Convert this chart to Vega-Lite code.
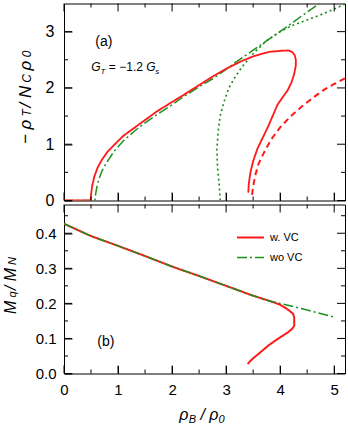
{
  "$schema": "https://vega.github.io/schema/vega-lite/v6.json",
  "padding": {"left": 2, "top": 2.5, "right": 0, "bottom": 0},
  "bounds": "flush",
  "spacing": 4,
  "config": {
    "view": {"stroke": "#000", "strokeWidth": 1},
    "axis": {"labelColor": "#000", "labelFont": "Liberation Sans", "labelFontSize": 15, "labelFlush": false, "labelOverlap": false},
    "text": {"font": "Liberation Sans", "color": "#000"},
    "legend": {"labelFont": "Liberation Sans"}
  },
  "resolve": {"scale": {"color": "independent", "strokeDash": "independent", "strokeWidth": "independent"}, "legend": {"color": "independent", "strokeDash": "independent"}},
  "vconcat": [
    {
      "width": 281,
      "height": 197,
      "resolve": {"axis": {"x": "independent", "y": "independent"}},
      "layer": [
        {
          "data": {"values": [
            {"s":"wo VC","i":0,"x":0,"y":0},{"s":"wo VC","i":1,"x":0.3,"y":0},{"s":"wo VC","i":2,"x":0.574,"y":0},{"s":"wo VC","i":3,"x":0.58,"y":0.08},{"s":"wo VC","i":4,"x":0.6,"y":0.2},{"s":"wo VC","i":5,"x":0.64,"y":0.36},{"s":"wo VC","i":6,"x":0.7,"y":0.52},{"s":"wo VC","i":7,"x":0.78,"y":0.66},{"s":"wo VC","i":8,"x":0.93,"y":0.88},{"s":"wo VC","i":9,"x":1.1,"y":1.06},{"s":"wo VC","i":10,"x":1.3,"y":1.23},{"s":"wo VC","i":11,"x":1.5,"y":1.38},{"s":"wo VC","i":12,"x":1.73,"y":1.53},{"s":"wo VC","i":13,"x":2.0,"y":1.7},{"s":"wo VC","i":14,"x":2.22,"y":1.85},{"s":"wo VC","i":15,"x":2.5,"y":2.02},{"s":"wo VC","i":16,"x":2.78,"y":2.18},{"s":"wo VC","i":17,"x":3.0,"y":2.33},{"s":"wo VC","i":18,"x":3.2,"y":2.47},{"s":"wo VC","i":19,"x":3.5,"y":2.67},{"s":"wo VC","i":20,"x":3.8,"y":2.87},{"s":"wo VC","i":21,"x":4.1,"y":3.07},{"s":"wo VC","i":22,"x":4.4,"y":3.28},{"s":"wo VC","i":23,"x":4.73,"y":3.5},{"s":"wo VC","i":24,"x":4.85,"y":3.58},
            {"s":"wo VC dotted","i":0,"x":2.89,"y":0},{"s":"wo VC dotted","i":1,"x":2.87,"y":0.3},{"s":"wo VC dotted","i":2,"x":2.84,"y":0.6},{"s":"wo VC dotted","i":3,"x":2.83,"y":0.9},{"s":"wo VC dotted","i":4,"x":2.85,"y":1.2},{"s":"wo VC dotted","i":5,"x":2.89,"y":1.5},{"s":"wo VC dotted","i":6,"x":2.96,"y":1.75},{"s":"wo VC dotted","i":7,"x":3.05,"y":2.0},{"s":"wo VC dotted","i":8,"x":3.17,"y":2.2},{"s":"wo VC dotted","i":9,"x":3.3,"y":2.38},{"s":"wo VC dotted","i":10,"x":3.52,"y":2.63},{"s":"wo VC dotted","i":11,"x":3.75,"y":2.84},{"s":"wo VC dotted","i":12,"x":4.0,"y":3.0},{"s":"wo VC dotted","i":13,"x":4.2,"y":3.1},{"s":"wo VC dotted","i":14,"x":4.45,"y":3.19},{"s":"wo VC dotted","i":15,"x":4.7,"y":3.28},{"s":"wo VC dotted","i":16,"x":4.95,"y":3.38},{"s":"wo VC dotted","i":17,"x":5.2,"y":3.49},
            {"s":"w. VC","i":0,"x":0,"y":0},{"s":"w. VC","i":1,"x":0.3,"y":0},{"s":"w. VC","i":2,"x":0.494,"y":0},{"s":"w. VC","i":3,"x":0.5,"y":0.1},{"s":"w. VC","i":4,"x":0.52,"y":0.25},{"s":"w. VC","i":5,"x":0.56,"y":0.42},{"s":"w. VC","i":6,"x":0.62,"y":0.58},{"s":"w. VC","i":7,"x":0.7,"y":0.72},{"s":"w. VC","i":8,"x":0.8,"y":0.86},{"s":"w. VC","i":9,"x":0.93,"y":0.99},{"s":"w. VC","i":10,"x":1.1,"y":1.15},{"s":"w. VC","i":11,"x":1.3,"y":1.29},{"s":"w. VC","i":12,"x":1.5,"y":1.43},{"s":"w. VC","i":13,"x":1.73,"y":1.59},{"s":"w. VC","i":14,"x":2.0,"y":1.75},{"s":"w. VC","i":15,"x":2.22,"y":1.88},{"s":"w. VC","i":16,"x":2.5,"y":2.05},{"s":"w. VC","i":17,"x":2.78,"y":2.22},{"s":"w. VC","i":18,"x":3.0,"y":2.34},{"s":"w. VC","i":19,"x":3.27,"y":2.47},{"s":"w. VC","i":20,"x":3.5,"y":2.56},{"s":"w. VC","i":21,"x":3.64,"y":2.6},{"s":"w. VC","i":22,"x":3.8,"y":2.64},{"s":"w. VC","i":23,"x":4.01,"y":2.66},{"s":"w. VC","i":24,"x":4.15,"y":2.665},{"s":"w. VC","i":25,"x":4.22,"y":2.64},{"s":"w. VC","i":26,"x":4.27,"y":2.58},{"s":"w. VC","i":27,"x":4.29,"y":2.5},{"s":"w. VC","i":28,"x":4.29,"y":2.4},{"s":"w. VC","i":29,"x":4.26,"y":2.25},{"s":"w. VC","i":30,"x":4.21,"y":2.1},{"s":"w. VC","i":31,"x":4.14,"y":1.96},{"s":"w. VC","i":32,"x":4.05,"y":1.84},{"s":"w. VC","i":33,"x":3.95,"y":1.7},{"s":"w. VC","i":34,"x":3.87,"y":1.52},{"s":"w. VC","i":35,"x":3.78,"y":1.32},{"s":"w. VC","i":36,"x":3.68,"y":1.12},{"s":"w. VC","i":37,"x":3.58,"y":0.92},{"s":"w. VC","i":38,"x":3.5,"y":0.7},{"s":"w. VC","i":39,"x":3.45,"y":0.5},{"s":"w. VC","i":40,"x":3.42,"y":0.3},{"s":"w. VC","i":41,"x":3.41,"y":0.14},
            {"s":"w. VC dashed","i":0,"x":3.48,"y":0.1},{"s":"w. VC dashed","i":1,"x":3.5,"y":0.25},{"s":"w. VC dashed","i":2,"x":3.54,"y":0.45},{"s":"w. VC dashed","i":3,"x":3.6,"y":0.65},{"s":"w. VC dashed","i":4,"x":3.7,"y":0.85},{"s":"w. VC dashed","i":5,"x":3.83,"y":1.08},{"s":"w. VC dashed","i":6,"x":4.0,"y":1.3},{"s":"w. VC dashed","i":7,"x":4.2,"y":1.5},{"s":"w. VC dashed","i":8,"x":4.4,"y":1.67},{"s":"w. VC dashed","i":9,"x":4.6,"y":1.82},{"s":"w. VC dashed","i":10,"x":4.8,"y":1.96},{"s":"w. VC dashed","i":11,"x":5.0,"y":2.07},{"s":"w. VC dashed","i":12,"x":5.2,"y":2.17}
          ]},
          "mark": {"type": "line", "clip": true},
          "encoding": {
            "x": {"field": "x", "type": "quantitative", "title": null, "scale": {"domain": [0, 5.2], "nice": false, "zero": false}, "axis": {"orient": "bottom", "values": [0,1,2,3,4,5], "labels": false, "domain": false, "grid": false, "ticks": true, "tickSize": -8, "tickColor": "#000", "tickWidth": 1}},
            "y": {"field": "y", "type": "quantitative", "title": null, "scale": {"domain": [0, 3.5], "nice": false, "zero": false}, "axis": {"orient": "left", "values": [0,1,2,3], "domain": false, "grid": false, "ticks": true, "tickSize": -8, "tickColor": "#000", "tickWidth": 1, "labelPadding": 18, "labelFontSize": 16}},
            "order": {"field": "i", "type": "quantitative"},
            "color": {"field": "s", "type": "nominal", "scale": {"domain": ["wo VC","wo VC dotted","w. VC","w. VC dashed"], "range": ["#1f8f1f","#1f8f1f","#ff1a1a","#ff1a1a"]}, "legend": null},
            "strokeDash": {"field": "s", "type": "nominal", "scale": {"domain": ["wo VC","wo VC dotted","w. VC","w. VC dashed"], "range": [[10,3,2,3],[2,3],[1,0],[6,4]]}, "legend": null},
            "strokeWidth": {"field": "s", "type": "nominal", "scale": {"domain": ["wo VC","wo VC dotted","w. VC","w. VC dashed"], "range": [1.5,2,2,1.5]}, "legend": null}
          }
        },
        {
          "data": {"values": [{"v":0},{"v":1},{"v":2},{"v":3},{"v":4},{"v":5}]},
          "mark": {"type": "tick", "orient": "vertical", "size": 8, "thickness": 1, "yOffset": -4, "color": "#000", "opacity": 1},
          "encoding": {
            "x": {"field": "v", "type": "quantitative", "scale": {"domain": [0, 5.2], "nice": false, "zero": false}, "axis": null},
            "y": {"datum": 0, "type": "quantitative", "scale": {"domain": [0, 3.5], "nice": false, "zero": false}, "axis": null}
          }
        },
        {
          "data": {"values": [{"v":0.5},{"v":1.5},{"v":2.5},{"v":3.5},{"v":4.5}]},
          "mark": {"type": "tick", "orient": "vertical", "size": 4, "thickness": 1, "yOffset": -2, "color": "#000", "opacity": 1},
          "encoding": {
            "x": {"field": "v", "type": "quantitative", "scale": {"domain": [0, 5.2], "nice": false, "zero": false}, "axis": null},
            "y": {"datum": 0, "type": "quantitative", "scale": {"domain": [0, 3.5], "nice": false, "zero": false}, "axis": null}
          }
        },
        {
          "data": {"values": [{"v":0},{"v":1},{"v":2},{"v":3},{"v":4},{"v":5}]},
          "mark": {"type": "tick", "orient": "vertical", "size": 8, "thickness": 1, "yOffset": 4, "color": "#000", "opacity": 1},
          "encoding": {
            "x": {"field": "v", "type": "quantitative", "scale": {"domain": [0, 5.2], "nice": false, "zero": false}, "axis": null},
            "y": {"datum": 3.5, "type": "quantitative", "scale": {"domain": [0, 3.5], "nice": false, "zero": false}, "axis": null}
          }
        },
        {
          "data": {"values": [{"v":0.5},{"v":1.5},{"v":2.5},{"v":3.5},{"v":4.5}]},
          "mark": {"type": "tick", "orient": "vertical", "size": 4, "thickness": 1, "yOffset": 2, "color": "#000", "opacity": 1},
          "encoding": {
            "x": {"field": "v", "type": "quantitative", "scale": {"domain": [0, 5.2], "nice": false, "zero": false}, "axis": null},
            "y": {"datum": 3.5, "type": "quantitative", "scale": {"domain": [0, 3.5], "nice": false, "zero": false}, "axis": null}
          }
        },
        {
          "data": {"values": [{"v":0},{"v":1},{"v":2},{"v":3}]},
          "mark": {"type": "tick", "orient": "horizontal", "size": 8, "thickness": 1, "xOffset": 4, "color": "#000", "opacity": 1},
          "encoding": {
            "x": {"datum": 0, "type": "quantitative", "scale": {"domain": [0, 5.2], "nice": false, "zero": false}, "axis": null},
            "y": {"field": "v", "type": "quantitative", "scale": {"domain": [0, 3.5], "nice": false, "zero": false}, "axis": null}
          }
        },
        {
          "data": {"values": [{"v":0.5},{"v":1.5},{"v":2.5}]},
          "mark": {"type": "tick", "orient": "horizontal", "size": 4, "thickness": 1, "xOffset": 2, "color": "#000", "opacity": 1},
          "encoding": {
            "x": {"datum": 0, "type": "quantitative", "scale": {"domain": [0, 5.2], "nice": false, "zero": false}, "axis": null},
            "y": {"field": "v", "type": "quantitative", "scale": {"domain": [0, 3.5], "nice": false, "zero": false}, "axis": null}
          }
        },
        {
          "data": {"values": [{"v":0},{"v":1},{"v":2},{"v":3}]},
          "mark": {"type": "tick", "orient": "horizontal", "size": 8, "thickness": 1, "xOffset": -4, "color": "#000", "opacity": 1},
          "encoding": {
            "x": {"datum": 5.2, "type": "quantitative", "scale": {"domain": [0, 5.2], "nice": false, "zero": false}, "axis": null},
            "y": {"field": "v", "type": "quantitative", "scale": {"domain": [0, 3.5], "nice": false, "zero": false}, "axis": null}
          }
        },
        {
          "data": {"values": [{"v":0.5},{"v":1.5},{"v":2.5}]},
          "mark": {"type": "tick", "orient": "horizontal", "size": 4, "thickness": 1, "xOffset": -2, "color": "#000", "opacity": 1},
          "encoding": {
            "x": {"datum": 5.2, "type": "quantitative", "scale": {"domain": [0, 5.2], "nice": false, "zero": false}, "axis": null},
            "y": {"field": "v", "type": "quantitative", "scale": {"domain": [0, 3.5], "nice": false, "zero": false}, "axis": null}
          }
        },
        {
          "data": {"values": [{"x": 0.737, "y": 2.82, "t": "(a)"}]},
          "mark": {"type": "text", "fontSize": 14, "align": "center", "baseline": "middle"},
          "encoding": {
            "x": {"field": "x", "type": "quantitative", "scale": {"domain": [0, 5.2], "nice": false, "zero": false}, "axis": null},
            "y": {"field": "y", "type": "quantitative", "scale": {"domain": [0, 3.5], "nice": false, "zero": false}, "axis": null},
            "text": {"field": "t"}
          }
        },
        {
          "data": {"values": [{"x": 0.506, "y": 2.305, "t": "G"}, {"x": 1.52, "y": 2.305, "t": "G"}]},
          "mark": {"type": "text", "fontSize": 12, "fontStyle": "italic", "align": "left", "baseline": "alphabetic"},
          "encoding": {
            "x": {"field": "x", "type": "quantitative", "scale": {"domain": [0, 5.2], "nice": false, "zero": false}, "axis": null},
            "y": {"field": "y", "type": "quantitative", "scale": {"domain": [0, 3.5], "nice": false, "zero": false}, "axis": null},
            "text": {"field": "t"}
          }
        },
        {
          "data": {"values": [{"x": 0.676, "y": 2.305, "t": "T"}, {"x": 1.69, "y": 2.305, "t": "s"}]},
          "mark": {"type": "text", "fontSize": 8, "fontStyle": "italic", "align": "left", "baseline": "alphabetic", "dy": 3},
          "encoding": {
            "x": {"field": "x", "type": "quantitative", "scale": {"domain": [0, 5.2], "nice": false, "zero": false}, "axis": null},
            "y": {"field": "y", "type": "quantitative", "scale": {"domain": [0, 3.5], "nice": false, "zero": false}, "axis": null},
            "text": {"field": "t"}
          }
        },
        {
          "data": {"values": [{"x": 0.83, "y": 2.305, "t": "= −1.2"}]},
          "mark": {"type": "text", "fontSize": 12, "align": "left", "baseline": "alphabetic"},
          "encoding": {
            "x": {"field": "x", "type": "quantitative", "scale": {"domain": [0, 5.2], "nice": false, "zero": false}, "axis": null},
            "y": {"field": "y", "type": "quantitative", "scale": {"domain": [0, 3.5], "nice": false, "zero": false}, "axis": null},
            "text": {"field": "t"}
          }
        },
        {
          "data": {"values": [{"x": -0.606, "y": 1.002, "t": "−"}, {"x": -0.606, "y": 1.262, "t": "ρ"}, {"x": -0.606, "y": 1.651, "t": "/"}, {"x": -0.606, "y": 1.819, "t": "N"}, {"x": -0.606, "y": 2.31, "t": "ρ"}]},
          "mark": {"type": "text", "fontSize": 17, "fontStyle": "italic", "angle": 270, "align": "left", "baseline": "alphabetic"},
          "encoding": {
            "x": {"field": "x", "type": "quantitative", "scale": {"domain": [0, 5.2], "nice": false, "zero": false}, "axis": null},
            "y": {"field": "y", "type": "quantitative", "scale": {"domain": [0, 3.5], "nice": false, "zero": false}, "axis": null},
            "text": {"field": "t"}
          }
        },
        {
          "data": {"values": [{"x": -0.606, "y": 1.438, "t": "T"}, {"x": -0.606, "y": 2.037, "t": "C"}, {"x": -0.606, "y": 2.49, "t": "0"}]},
          "mark": {"type": "text", "fontSize": 12, "fontStyle": "italic", "angle": 270, "align": "left", "baseline": "alphabetic", "dx": 3},
          "encoding": {
            "x": {"field": "x", "type": "quantitative", "scale": {"domain": [0, 5.2], "nice": false, "zero": false}, "axis": null},
            "y": {"field": "y", "type": "quantitative", "scale": {"domain": [0, 3.5], "nice": false, "zero": false}, "axis": null},
            "text": {"field": "t"}
          }
        }
      ]
    },
    {
      "width": 281,
      "height": 169,
      "resolve": {"axis": {"x": "independent", "y": "independent"}},
      "layer": [
        {
          "data": {"values": [
            {"s":"w. VC","i":0,"x":0,"y":0.427},{"s":"w. VC","i":1,"x":0.5,"y":0.392},{"s":"w. VC","i":2,"x":1.0,"y":0.364},{"s":"w. VC","i":3,"x":1.5,"y":0.335},{"s":"w. VC","i":4,"x":2.0,"y":0.305},{"s":"w. VC","i":5,"x":2.5,"y":0.278},{"s":"w. VC","i":6,"x":3.0,"y":0.25},{"s":"w. VC","i":7,"x":3.46,"y":0.224},{"s":"w. VC","i":8,"x":3.8,"y":0.207},{"s":"w. VC","i":9,"x":3.9,"y":0.202},{"s":"w. VC","i":10,"x":4.0,"y":0.196},{"s":"w. VC","i":11,"x":4.1,"y":0.187},{"s":"w. VC","i":12,"x":4.18,"y":0.178},{"s":"w. VC","i":13,"x":4.24,"y":0.17},{"s":"w. VC","i":14,"x":4.26,"y":0.16},{"s":"w. VC","i":15,"x":4.26,"y":0.136},{"s":"w. VC","i":16,"x":4.22,"y":0.127},{"s":"w. VC","i":17,"x":4.14,"y":0.117},{"s":"w. VC","i":18,"x":4.05,"y":0.108},{"s":"w. VC","i":19,"x":3.95,"y":0.098},{"s":"w. VC","i":20,"x":3.8,"y":0.082},{"s":"w. VC","i":21,"x":3.7,"y":0.069},{"s":"w. VC","i":22,"x":3.6,"y":0.056},{"s":"w. VC","i":23,"x":3.52,"y":0.046},{"s":"w. VC","i":24,"x":3.45,"y":0.036},{"s":"w. VC","i":25,"x":3.4,"y":0.027},
            {"s":"wo VC","i":0,"x":0,"y":0.427},{"s":"wo VC","i":1,"x":0.5,"y":0.392},{"s":"wo VC","i":2,"x":1.0,"y":0.364},{"s":"wo VC","i":3,"x":1.5,"y":0.335},{"s":"wo VC","i":4,"x":2.0,"y":0.305},{"s":"wo VC","i":5,"x":2.5,"y":0.278},{"s":"wo VC","i":6,"x":3.0,"y":0.25},{"s":"wo VC","i":7,"x":3.46,"y":0.224},{"s":"wo VC","i":8,"x":3.8,"y":0.207},{"s":"wo VC","i":9,"x":4.0,"y":0.2},{"s":"wo VC","i":10,"x":4.5,"y":0.181},{"s":"wo VC","i":11,"x":5.0,"y":0.161}
          ]},
          "mark": {"type": "line", "clip": true},
          "encoding": {
            "x": {"field": "x", "type": "quantitative", "title": null, "scale": {"domain": [0, 5.2], "nice": false, "zero": false}, "axis": {"orient": "bottom", "values": [0,1,2,3,4,5], "domain": false, "grid": false, "ticks": true, "tickSize": -8, "tickColor": "#000", "tickWidth": 1, "labelPadding": 17, "labelFontSize": 15}},
            "y": {"field": "y", "type": "quantitative", "title": null, "scale": {"domain": [0, 0.482], "nice": false, "zero": false}, "axis": {"orient": "left", "values": [0,0.1,0.2,0.3,0.4], "format": ".1f", "domain": false, "grid": false, "ticks": true, "tickSize": -8, "tickColor": "#000", "tickWidth": 1, "labelPadding": 16, "labelFontSize": 15}},
            "order": {"field": "i", "type": "quantitative"},
            "color": {"field": "s", "type": "nominal", "scale": {"domain": ["w. VC","wo VC"], "range": ["#ff1a1a","#1f8f1f"]}, "legend": {"orient": "none", "legendX": 172, "legendY": 18.5, "title": null, "symbolType": "stroke", "symbolSize": 729, "symbolStrokeWidth": 2, "labelFontSize": 11, "labelOffset": 5, "rowPadding": -13, "padding": 0}},
            "strokeDash": {"field": "s", "type": "nominal", "scale": {"domain": ["w. VC","wo VC"], "range": [[1,0],[10,3,2,3]]}, "legend": {"orient": "none", "legendX": 172, "legendY": 18.5, "title": null, "symbolType": "stroke", "symbolSize": 729, "symbolStrokeWidth": 2, "labelFontSize": 11, "labelOffset": 5, "rowPadding": -13, "padding": 0}},
            "strokeWidth": {"field": "s", "type": "nominal", "scale": {"domain": ["w. VC","wo VC"], "range": [2,1.5]}, "legend": null}
          }
        },
        {
          "data": {"values": [{"v":0},{"v":1},{"v":2},{"v":3},{"v":4},{"v":5}]},
          "mark": {"type": "tick", "orient": "vertical", "size": 8, "thickness": 1, "yOffset": -4, "color": "#000", "opacity": 1},
          "encoding": {
            "x": {"field": "v", "type": "quantitative", "scale": {"domain": [0, 5.2], "nice": false, "zero": false}, "axis": null},
            "y": {"datum": 0, "type": "quantitative", "scale": {"domain": [0, 0.482], "nice": false, "zero": false}, "axis": null}
          }
        },
        {
          "data": {"values": [{"v":0.5},{"v":1.5},{"v":2.5},{"v":3.5},{"v":4.5}]},
          "mark": {"type": "tick", "orient": "vertical", "size": 4, "thickness": 1, "yOffset": -2, "color": "#000", "opacity": 1},
          "encoding": {
            "x": {"field": "v", "type": "quantitative", "scale": {"domain": [0, 5.2], "nice": false, "zero": false}, "axis": null},
            "y": {"datum": 0, "type": "quantitative", "scale": {"domain": [0, 0.482], "nice": false, "zero": false}, "axis": null}
          }
        },
        {
          "data": {"values": [{"v":0},{"v":1},{"v":2},{"v":3},{"v":4},{"v":5}]},
          "mark": {"type": "tick", "orient": "vertical", "size": 8, "thickness": 1, "yOffset": 4, "color": "#000", "opacity": 1},
          "encoding": {
            "x": {"field": "v", "type": "quantitative", "scale": {"domain": [0, 5.2], "nice": false, "zero": false}, "axis": null},
            "y": {"datum": 0.482, "type": "quantitative", "scale": {"domain": [0, 0.482], "nice": false, "zero": false}, "axis": null}
          }
        },
        {
          "data": {"values": [{"v":0.5},{"v":1.5},{"v":2.5},{"v":3.5},{"v":4.5}]},
          "mark": {"type": "tick", "orient": "vertical", "size": 4, "thickness": 1, "yOffset": 2, "color": "#000", "opacity": 1},
          "encoding": {
            "x": {"field": "v", "type": "quantitative", "scale": {"domain": [0, 5.2], "nice": false, "zero": false}, "axis": null},
            "y": {"datum": 0.482, "type": "quantitative", "scale": {"domain": [0, 0.482], "nice": false, "zero": false}, "axis": null}
          }
        },
        {
          "data": {"values": [{"v":0},{"v":0.1},{"v":0.2},{"v":0.3},{"v":0.4}]},
          "mark": {"type": "tick", "orient": "horizontal", "size": 8, "thickness": 1, "xOffset": 4, "color": "#000", "opacity": 1},
          "encoding": {
            "x": {"datum": 0, "type": "quantitative", "scale": {"domain": [0, 5.2], "nice": false, "zero": false}, "axis": null},
            "y": {"field": "v", "type": "quantitative", "scale": {"domain": [0, 0.482], "nice": false, "zero": false}, "axis": null}
          }
        },
        {
          "data": {"values": [{"v":0.05},{"v":0.15},{"v":0.25},{"v":0.35},{"v":0.45}]},
          "mark": {"type": "tick", "orient": "horizontal", "size": 4, "thickness": 1, "xOffset": 2, "color": "#000", "opacity": 1},
          "encoding": {
            "x": {"datum": 0, "type": "quantitative", "scale": {"domain": [0, 5.2], "nice": false, "zero": false}, "axis": null},
            "y": {"field": "v", "type": "quantitative", "scale": {"domain": [0, 0.482], "nice": false, "zero": false}, "axis": null}
          }
        },
        {
          "data": {"values": [{"v":0},{"v":0.1},{"v":0.2},{"v":0.3},{"v":0.4}]},
          "mark": {"type": "tick", "orient": "horizontal", "size": 8, "thickness": 1, "xOffset": -4, "color": "#000", "opacity": 1},
          "encoding": {
            "x": {"datum": 5.2, "type": "quantitative", "scale": {"domain": [0, 5.2], "nice": false, "zero": false}, "axis": null},
            "y": {"field": "v", "type": "quantitative", "scale": {"domain": [0, 0.482], "nice": false, "zero": false}, "axis": null}
          }
        },
        {
          "data": {"values": [{"v":0.05},{"v":0.15},{"v":0.25},{"v":0.35},{"v":0.45}]},
          "mark": {"type": "tick", "orient": "horizontal", "size": 4, "thickness": 1, "xOffset": -2, "color": "#000", "opacity": 1},
          "encoding": {
            "x": {"datum": 5.2, "type": "quantitative", "scale": {"domain": [0, 5.2], "nice": false, "zero": false}, "axis": null},
            "y": {"field": "v", "type": "quantitative", "scale": {"domain": [0, 0.482], "nice": false, "zero": false}, "axis": null}
          }
        },
        {
          "data": {"values": [{"x": 0.774, "y": 0.089, "t": "(b)"}]},
          "mark": {"type": "text", "fontSize": 14, "align": "center", "baseline": "middle"},
          "encoding": {
            "x": {"field": "x", "type": "quantitative", "scale": {"domain": [0, 5.2], "nice": false, "zero": false}, "axis": null},
            "y": {"field": "y", "type": "quantitative", "scale": {"domain": [0, 0.482], "nice": false, "zero": false}, "axis": null},
            "text": {"field": "t"}
          }
        },
        {
          "data": {"values": [{"x": -0.883, "y": 0.17, "t": "M"}, {"x": -0.883, "y": 0.238, "t": "/"}, {"x": -0.883, "y": 0.263, "t": "M"}]},
          "mark": {"type": "text", "fontSize": 16, "fontStyle": "italic", "angle": 270, "align": "left", "baseline": "alphabetic"},
          "encoding": {
            "x": {"field": "x", "type": "quantitative", "scale": {"domain": [0, 5.2], "nice": false, "zero": false}, "axis": null},
            "y": {"field": "y", "type": "quantitative", "scale": {"domain": [0, 0.482], "nice": false, "zero": false}, "axis": null},
            "text": {"field": "t"}
          }
        },
        {
          "data": {"values": [{"x": -0.883, "y": 0.208, "t": "q"}, {"x": -0.883, "y": 0.301, "t": "N"}]},
          "mark": {"type": "text", "fontSize": 11, "fontStyle": "italic", "angle": 270, "align": "left", "baseline": "alphabetic", "dx": 3},
          "encoding": {
            "x": {"field": "x", "type": "quantitative", "scale": {"domain": [0, 5.2], "nice": false, "zero": false}, "axis": null},
            "y": {"field": "y", "type": "quantitative", "scale": {"domain": [0, 0.482], "nice": false, "zero": false}, "axis": null},
            "text": {"field": "t"}
          }
        },
        {
          "data": {"values": [{"x": 2.135, "y": -0.132, "t": "ρ"}, {"x": 2.524, "y": -0.132, "t": "/"}, {"x": 2.687, "y": -0.132, "t": "ρ"}]},
          "mark": {"type": "text", "fontSize": 16, "fontStyle": "italic", "align": "left", "baseline": "alphabetic"},
          "encoding": {
            "x": {"field": "x", "type": "quantitative", "scale": {"domain": [0, 5.2], "nice": false, "zero": false}, "axis": null},
            "y": {"field": "y", "type": "quantitative", "scale": {"domain": [0, 0.482], "nice": false, "zero": false}, "axis": null},
            "text": {"field": "t"}
          }
        },
        {
          "data": {"values": [{"x": 2.307, "y": -0.132, "t": "B"}, {"x": 2.859, "y": -0.132, "t": "0"}]},
          "mark": {"type": "text", "fontSize": 11, "fontStyle": "italic", "align": "left", "baseline": "alphabetic", "dy": 3},
          "encoding": {
            "x": {"field": "x", "type": "quantitative", "scale": {"domain": [0, 5.2], "nice": false, "zero": false}, "axis": null},
            "y": {"field": "y", "type": "quantitative", "scale": {"domain": [0, 0.482], "nice": false, "zero": false}, "axis": null},
            "text": {"field": "t"}
          }
        }
      ]
    }
  ]
}
